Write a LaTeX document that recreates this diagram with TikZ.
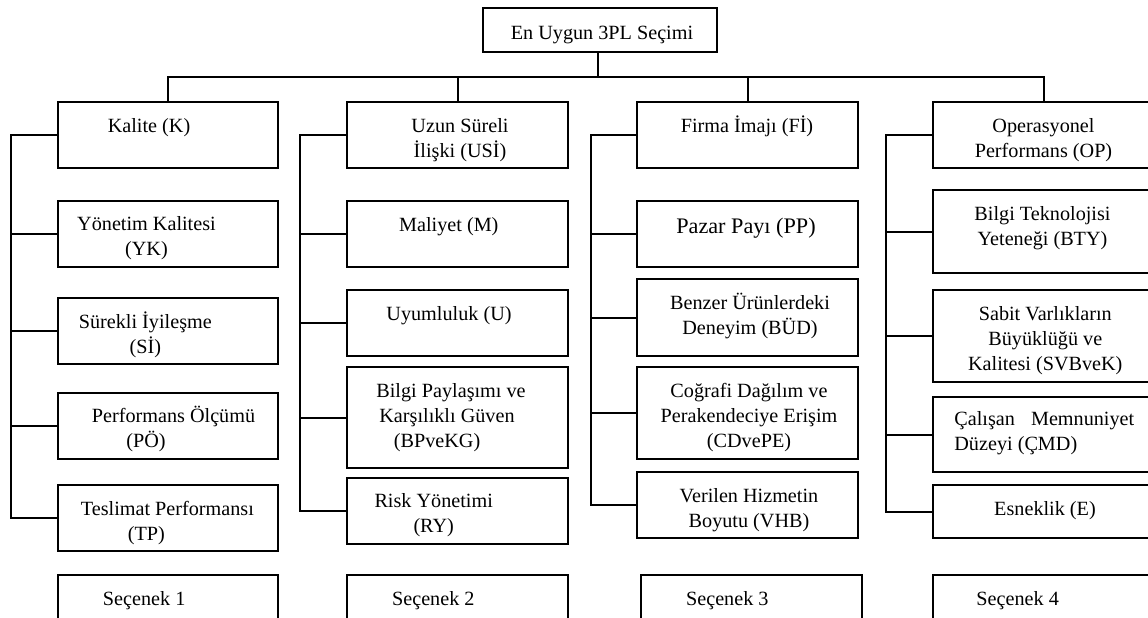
\documentclass[tikz,border=0pt]{standalone}
\usepackage{fontspec}
\setmainfont{Liberation Serif}
\usepackage{tikz}
\tikzset{
  critbox/.style={draw=black,line width=1pt,anchor=north west,inner sep=0pt,outer sep=0pt},
  crittext/.style={anchor=north,align=center,inner sep=0pt,font=\fontsize{10.1}{12.5}\selectfont},
  crittextl/.style={crittext,anchor=north west,align=left},
  conn/.style={draw=black,line width=1pt}
}
\newcommand{\tstrut}{\rule{0pt}{10pt}}
\newcommand{\drawcritbox}[5]{
  \node[critbox,minimum width=#4*0.5pt,minimum height=#5*0.5pt] (#1) at (#2,#3) {};
}

\begin{document}
\begin{tikzpicture}[x=0.5pt,y=-0.5pt]
      \useasboundingbox (0,0) rectangle (1148,617);
      \clip (0,0) rectangle (1148,617);

      \drawcritbox{top}{483}{8}{234}{44};
      \node[crittext] (topt) at (602,19) {\tstrut En Uygun 3PL Seçimi};

      %% kalite
      \drawcritbox{K}{57.5}{102}{220.5}{66};
      \node[crittext] (Kt) at (149,112) {\tstrut Kalite (K)};
      \drawcritbox{YK}{57.5}{201}{220.5}{66};
      \node[crittext] (YKt) at (146.5,210) {\tstrut Yönetim Kalitesi\\(YK)};
      \drawcritbox{SI}{57.5}{298}{220.5}{66};
      \node[crittext] (SIt) at (145.3,308) {\tstrut Sürekli İyileşme\\(Sİ)};
      \drawcritbox{PO}{57.5}{393}{220.5}{66};
      \node[crittextl] (POt) at (91.5,402) {\tstrut Performans Ölçümü\\\hspace*{17.25pt}(PÖ)};
      \drawcritbox{TP}{57.5}{485}{220.5}{66};
      \node[crittextl] (TPt) at (80.5,495) {\tstrut Teslimat Performansı\\\hspace*{23.5pt}(TP)};
      \drawcritbox{S1}{57.5}{575}{220.5}{80};
      \node[crittextl] (S1t) at (102.5,585) {\tstrut Seçenek 1};

      %% uzun sureli iliski
      \drawcritbox{USI}{347}{102}{221}{66};
      \node[crittext] (USIt) at (460,112) {\tstrut Uzun Süreli\\İlişki (USİ)};
      \drawcritbox{M}{347}{201}{221}{66};
      \node[crittext] (Mt) at (448.8,211) {\tstrut Maliyet (M)};
      \drawcritbox{U}{347}{290}{221}{66};
      \node[crittext] (Ut) at (449,300) {\tstrut Uyumluluk (U)};
      \drawcritbox{BP}{347}{367}{221}{101};
      \node[crittextl] (BPt) at (376,377) {\tstrut Bilgi Paylaşımı ve\\\hspace*{1.5pt}Karşılıklı Güven\\\hspace*{8.75pt}(BPveKG)};
      \drawcritbox{RY}{347}{478}{221}{66};
      \node[crittext] (RYt) at (433.7,487) {\tstrut Risk Yönetimi\\(RY)};
      \drawcritbox{S2}{347}{575}{221}{80};
      \node[crittextl] (S2t) at (391.7,585) {\tstrut Seçenek 2};

      %% firma imaji
      \drawcritbox{FI}{637}{102}{221}{66};
      \node[crittext] (FIt) at (747,112) {\tstrut Firma İmajı (Fİ)};
      \drawcritbox{PP}{637}{201}{221}{66};
      \node[crittext,font=\fontsize{11.1}{13.5}\selectfont] (PPt) at (746,213) {\tstrut Pazar Payı (PP)};
      \drawcritbox{BUD}{637}{279}{221}{77};
      \node[crittext] (BUDt) at (750,289) {\tstrut Benzer Ürünlerdeki\\Deneyim (BÜD)};
      \drawcritbox{CD}{637}{367}{221}{92};
      \node[crittext] (CDt) at (749,377) {\tstrut Coğrafi Dağılım ve\\Perakendeciye Erişim\\(CDvePE)};
      \drawcritbox{VHB}{637}{472}{221}{66};
      \node[crittext] (VHBt) at (749,482) {\tstrut Verilen Hizmetin\\Boyutu (VHB)};
      \drawcritbox{S3}{641}{575}{221}{80};
      \node[crittextl] (S3t) at (685.7,585) {\tstrut Seçenek 3};

      %% operasyonel performans
      \drawcritbox{OP}{933}{102}{221}{66};
      \node[crittext] (OPt) at (1043.5,112) {\tstrut Operasyonel\\Performans (OP)};
      \drawcritbox{BTY}{933}{190}{221}{83};
      \node[crittext] (BTYt) at (1042.5,200) {\tstrut Bilgi Teknolojisi\\Yeteneği (BTY)};
      \drawcritbox{SV}{933}{290}{221}{92};
      \node[crittext] (SVt) at (1045.3,300) {\tstrut Sabit Varlıkların\\Büyüklüğü ve\\Kalitesi (SVBveK)};
      \drawcritbox{CMD}{933}{397}{221}{75};
      \node[crittextl] (CMDt) at (954,405) {\tstrut Çalışan\hspace{5.5pt} Memnuniyet\\Düzeyi (ÇMD)};
      \drawcritbox{E}{933}{485}{221}{53};
      \node[crittext] (Et) at (1045,495) {\tstrut Esneklik (E)};
      \drawcritbox{S4}{933}{575}{221}{80};
      \node[crittextl] (S4t) at (976,585) {\tstrut Seçenek 4};

      %% tree lines
      \coordinate (bus) at (598,77);
      \draw[conn] (top.south -| bus) -- (bus);
      \draw[conn] (K.north) |- (bus) -| (OP.north);
      \draw[conn] (USI.north) -- (USI.north |- bus);
      \draw[conn] (FI.north) -- (FI.north |- bus);

      \coordinate (sp1) at (11,0);
      \draw[conn] (K.west) -| (sp1 |- TP.west) -- (TP.west);
      \draw[conn] (sp1 |- YK.west) -- (YK.west);
      \draw[conn] (sp1 |- SI.west) -- (SI.west);
      \draw[conn] (sp1 |- PO.west) -- (PO.west);

      \coordinate (sp2) at (300,0);
      \draw[conn] (USI.west) -| (sp2 |- RY.west) -- (RY.west);
      \draw[conn] (sp2 |- M.west) -- (M.west);
      \draw[conn] (sp2 |- U.west) -- (U.west);
      \draw[conn] (sp2 |- BP.west) -- (BP.west);

      \coordinate (sp3) at (590.5,0);
      \draw[conn] (FI.west) -| (sp3 |- VHB.west) -- (VHB.west);
      \draw[conn] (sp3 |- PP.west) -- (PP.west);
      \draw[conn] (sp3 |- BUD.west) -- (BUD.west);
      \draw[conn] (sp3 |- CD.west) -- (CD.west);

      \coordinate (sp4) at (886,0);
      \draw[conn] (OP.west) -| (sp4 |- E.west) -- (E.west);
      \draw[conn] (sp4 |- BTY.west) -- (BTY.west);
      \draw[conn] (sp4 |- SV.west) -- (SV.west);
      \draw[conn] (sp4 |- CMD.west) -- (CMD.west);
    \end{tikzpicture}
\end{document}
